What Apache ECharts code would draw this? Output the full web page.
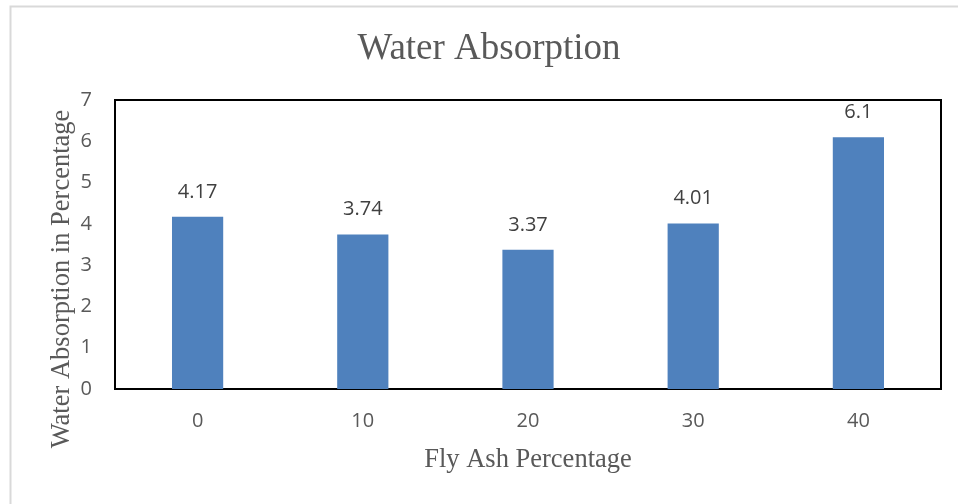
<!DOCTYPE html>
<html>
<head>
<meta charset="utf-8">
<title>Water Absorption</title>
<script src="https://cdn.jsdelivr.net/npm/echarts@6/dist/echarts.min.js"></script>
<style>
  body { margin: 0; background: #fff; }
  #main { width: 958px; height: 504px; }
</style>
</head>
<body>
<div id="main"></div>
<script>
// data
var flyAsh = ['0', '10', '20', '30', '40'];
var absorption = [4.17, 3.74, 3.37, 4.01, 6.1];
var yMin = 0, yMax = 7, yStep = 1;

var chart = echarts.init(document.getElementById('main'));
var grey = '#595959';
var serif = '"Liberation Serif", "DejaVu Serif", serif';
var sans = '"Open Sans", "Liberation Sans", sans-serif';

var option = {
  animation: false,
  backgroundColor: '#fff',
  title: {
    text: 'Water Absorption',
    left: 484,
    textAlign: 'center',
    top: 26,
    textStyle: { fontFamily: serif, fontSize: 37, fontWeight: 'normal', color: grey }
  },
  graphic: [
    // light outer frame
    {
      type: 'rect',
      left: 8, top: 4,
      shape: { width: 960, height: 520 },
      style: { fill: 'none', stroke: '#d9d9d9', lineWidth: 2 },
      silent: true
    },
    // y axis title (Excel centres it a bit lower than the plot)
    {
      type: 'text',
      x: 62, y: 279,
      rotation: Math.PI / 2,
      style: {
        text: 'Water Absorption in Percentage',
        font: '26.5px ' + serif,
        fill: grey,
        align: 'center',
        verticalAlign: 'middle'
      },
      silent: true
    }
  ],
  grid: {
    left: 115, top: 100, width: 826, height: 289,
    show: true, borderColor: '#000', borderWidth: 2, backgroundColor: '#fff'
  },
  xAxis: {
    type: 'category',
    data: flyAsh,
    name: 'Fly Ash Percentage',
    nameLocation: 'middle',
    nameGap: 58,
    nameTextStyle: { fontFamily: serif, fontSize: 26.5, color: grey },
    axisLine: { lineStyle: { color: '#000', width: 2 } },
    axisTick: { show: false },
    axisLabel: { fontFamily: sans, fontSize: 20, color: grey, margin: 22 }
  },
  yAxis: {
    type: 'value',
    min: yMin, max: yMax, interval: yStep,
    axisLine: { show: false },
    axisTick: { show: false },
    splitLine: { show: false },
    axisLabel: { fontFamily: sans, fontSize: 20, color: grey, margin: 23 }
  },
  series: [{
    type: 'bar',
    data: absorption,
    barWidth: '31%',
    itemStyle: { color: '#4f81bd' },
    label: {
      show: true,
      position: 'top',
      distance: 15,
      fontFamily: sans,
      fontSize: 20,
      color: '#404040'
    }
  }]
};

chart.setOption(option);
</script>
</body>
</html>
